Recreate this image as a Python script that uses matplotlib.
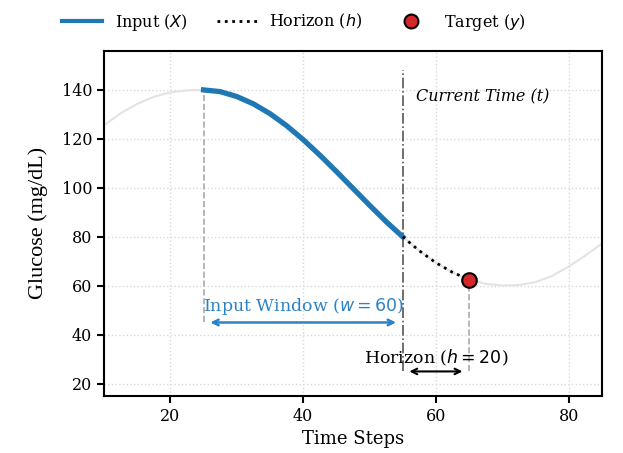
import numpy as np
import matplotlib
matplotlib.use('Agg')
import matplotlib.pyplot as plt
from matplotlib.lines import Line2D

plt.rcParams['font.family'] = 'DejaVu Serif'

# glucose trace (time step, mg/dL)
time_steps = [10, 12.5, 15, 17.5, 20, 22.5, 25, 27.5, 30, 32.5, 35, 37.5, 40,
              42.5, 45, 47.5, 50, 52.5, 55, 57.5, 60, 62.5, 65, 67.5, 70,
              72.5, 75, 77.5, 80, 82.5, 85]
glucose = [125.5, 130.5, 134.3, 137.2, 139.0, 139.8, 140.0, 139.3, 137.3,
           134.3, 130.3, 125.4, 119.7, 113.4, 106.7, 99.8, 92.9, 86.2, 80.0,
           74.3, 69.4, 65.5, 62.5, 60.8, 60.1, 60.3, 61.5, 64.0, 67.8, 72.3,
           77.2]

t_start = 25      # start of input window
t_now = 55        # current time
t_target = 65     # target time
window_label = r'Input Window ($w = 60$)'
horizon_label = r'Horizon ($h = 20$)'

t = np.array(time_steps)
g = np.array(glucose)
inp = (t >= t_start) & (t <= t_now)
hor = (t >= t_now) & (t <= t_target)
y_target = g[t == t_target][0]

fig = plt.figure(figsize=(6.23, 4.53), dpi=100)
ax = fig.add_axes([0.167, 0.126, 0.799, 0.762])

ax.plot(t, g, color='#e3e3e3', lw=1.5, zorder=1)
ax.plot(t[inp], g[inp], color='#1f77b4', lw=3.8, zorder=3)
ax.plot(t[hor], g[hor], color='k', lw=2, ls=':', zorder=3)
ax.plot([t_target], [y_target], 'o', ms=10.5, mfc='#d62728', mec='k', mew=1.5, zorder=4)

ax.vlines(t_now, 25, 148, color='#555555', lw=1.2, ls='-.', zorder=2)
ax.vlines(t_start, 45, g[t == t_start][0], color='#aaaaaa', lw=1.2, ls='--', zorder=2)
ax.vlines(t_target, 25, y_target, color='#aaaaaa', lw=1.2, ls='--', zorder=2)

ax.text(t_now + 2, 140.5, 'Current Time (t)', style='italic', fontsize=11.5, va='top', ha='left')

ax.annotate('', xy=(t_now - 1, 45), xytext=(t_start + 1, 45),
            arrowprops=dict(arrowstyle='<->', color='#2b83c6', lw=1.8, shrinkA=0, shrinkB=0))
ax.text((t_start + t_now) / 2, 51.5, window_label, color='#2b83c6', fontsize=12.5,
        ha='center', va='center')
ax.annotate('', xy=(t_target - 1, 25), xytext=(t_now + 1, 25),
            arrowprops=dict(arrowstyle='<->', color='k', lw=1.5, shrinkA=0, shrinkB=0))
ax.text((t_now + t_target) / 2, 30.5, horizon_label, color='k', fontsize=12.5,
        ha='center', va='center')

ax.set_xlim(10, 85)
ax.set_ylim(15, 156)
ax.set_xticks([20, 40, 60, 80])
ax.set_yticks([20, 40, 60, 80, 100, 120, 140])
ax.tick_params(labelsize=11.5, width=1.5, length=5)
for s in ax.spines.values():
    s.set_linewidth(1.5)
ax.grid(True, ls=':', color='#d9d9d9', lw=1)
ax.set_axisbelow(True)

ax.set_xlabel('Time Steps', fontsize=13)
ax.set_ylabel('Glucose (mg/dL)', fontsize=16, family='Liberation Serif', labelpad=10)

handles = [Line2D([], [], color='#1f77b4', lw=3),
           Line2D([], [], color='k', lw=2, ls=':'),
           Line2D([], [], ls='none', marker='o', ms=10, mfc='#d62728', mec='k', mew=1.5)]
labels = [r'Input ($X$)', r'Horizon ($h$)', r'Target ($y$)']
fig.legend(handles, labels, loc='center', bbox_to_anchor=(0.472, 0.951), ncol=3,
           frameon=False, fontsize=11.5, handlelength=2.5, columnspacing=1.8)

fig.savefig('out.png', dpi=100)
